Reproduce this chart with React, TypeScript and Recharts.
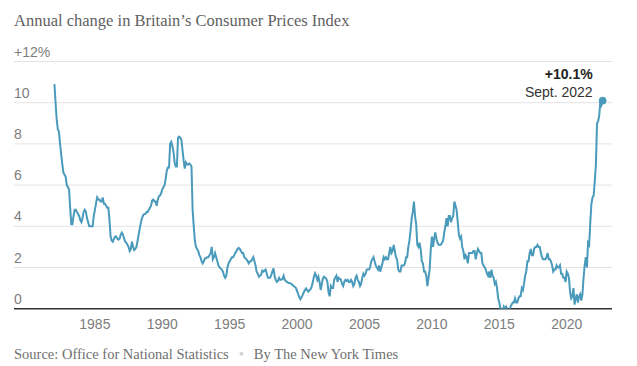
import React from "react";
import {
  LineChart,
  Line,
  XAxis,
  YAxis,
  CartesianGrid,
  ReferenceLine,
  ReferenceDot,
} from "recharts";

// Monthly annual CPI change (%), Jan of first year onward
const cpi1980s = [
  // 1982
  10.9, 10.0, 9.2, 8.7, 8.6, 8.0, 7.5, 7.0, 6.6, 6.5, 6.4, 6.0,
  // 1983
  5.9, 5.8, 4.9, 4.1, 4.1, 4.5, 4.8, 4.8, 4.7, 4.6, 4.5, 4.3,
  // 1984
  4.2, 4.4, 4.7, 4.8, 4.7, 4.4, 4.2, 4.0, 4.0, 4.0, 4.0, 4.5,
  // 1985
  4.8, 5.1, 5.4, 5.3, 5.3, 5.2, 5.2, 5.4, 5.1, 5.1, 5.0, 4.9,
  // 1986
  4.9, 4.3, 3.5, 3.3, 3.25, 3.4, 3.5, 3.5, 3.4, 3.35, 3.4, 3.6,
  // 1987
  3.7, 3.6, 3.4, 3.25, 3.2, 3.1, 3.0, 2.8, 2.9, 3.25, 3.0, 2.85,
  // 1988
  2.9, 3.0, 3.3, 3.6, 3.9, 4.2, 4.4, 4.55, 4.6, 4.6, 4.7, 4.7,
  // 1989
  4.8, 4.9, 5.0, 5.25, 5.3, 5.2, 5.2, 5.0, 5.3, 5.45, 5.5, 5.6,
];
const cpi1990s = [
  5.8, 5.9, 6.0, 6.3, 6.7, 6.85, 6.85, 8.0, 8.1, 7.9, 7.6, 7.1,
  6.9, 6.9, 8.3, 8.35, 8.3, 8.2, 7.7, 7.2, 6.8, 7.1, 7.0, 7.0,
  7.05, 7.0, 6.9, 4.8, 4.0, 3.3, 3.0, 2.9, 2.8, 2.6, 2.5, 2.3,
  2.2, 2.3, 2.45, 2.45, 2.5, 2.5, 2.6, 2.7, 3.0, 2.4, 2.5, 2.7,
  2.5, 2.3, 2.1, 2.0, 1.95, 1.9, 1.8, 1.6, 1.5, 1.6, 2.0, 2.2,
  2.3, 2.4, 2.5, 2.5, 2.6, 2.7, 2.8, 2.9, 2.95, 2.9, 2.8, 2.7,
  2.7, 2.5, 2.45, 2.4, 2.3, 2.2, 2.3, 2.3, 2.4, 2.5, 2.3, 2.1,
  1.8, 1.7, 1.55, 1.6, 1.65, 1.85, 1.8, 1.85, 1.9, 1.7, 1.5, 1.5,
  1.5, 1.64, 1.8, 1.96, 1.6, 1.4, 1.3, 1.35, 1.5, 1.4, 1.4, 1.45,
  1.6, 1.4, 1.35, 1.3, 1.26, 1.25, 1.23, 1.2, 1.15, 1.1, 1.05, 1.0,
];
const cpi2000s = [
  0.85, 0.7, 0.55, 0.46, 0.55, 0.67, 0.8, 0.91, 0.99, 0.9, 0.83, 0.9,
  0.95, 1.07, 1.3, 1.55, 1.72, 1.6, 1.4, 1.55, 1.3, 0.91, 1.2, 1.48,
  1.55, 1.5, 1.45, 1.3, 0.8, 0.6, 1.1, 1.0, 1.0, 1.4, 1.5, 1.6,
  1.3, 1.5, 1.45, 1.4, 1.2, 1.1, 1.3, 1.4, 1.35, 1.4, 1.3, 1.3,
  1.4, 1.3, 1.1, 1.2, 1.5, 1.6, 1.4, 1.3, 1.1, 1.2, 1.5, 1.7,
  1.6, 1.7, 1.9, 1.9, 1.9, 2.0, 2.3, 2.4, 2.5, 2.3, 2.1, 2.0,
  1.9, 2.1, 1.8, 2.0, 2.2, 2.5, 2.4, 2.5, 2.4, 2.4, 2.7, 3.0,
  2.7, 2.8, 3.1, 2.8, 2.5, 2.4, 1.9, 1.8, 1.8, 2.1, 2.1, 2.1,
  2.2, 2.5, 2.5, 3.0, 3.3, 3.8, 4.4, 4.7, 5.2, 4.5, 4.1, 3.1,
  3.0, 3.2, 2.9, 2.3, 2.2, 1.8, 1.8, 1.6, 1.1, 1.5, 1.9, 2.9,
];
const cpi2010s = [
  3.5, 3.0, 3.4, 3.7, 3.4, 3.2, 3.1, 3.1, 3.1, 3.2, 3.3, 3.7,
  4.0, 4.4, 4.0, 4.5, 4.5, 4.2, 4.4, 4.5, 5.2, 5.0, 4.8, 4.2,
  3.6, 3.4, 3.5, 3.0, 2.8, 2.4, 2.6, 2.5, 2.2, 2.7, 2.7, 2.7,
  2.7, 2.8, 2.8, 2.4, 2.7, 2.9, 2.8, 2.7, 2.7, 2.2, 2.1, 2.0,
  1.9, 1.7, 1.6, 1.8, 1.5, 1.9, 1.6, 1.5, 1.2, 1.3, 1.0, 0.5,
  0.3, 0.0, 0.0, -0.1, 0.1, 0.0, 0.1, 0.0, -0.1, -0.1, 0.1, 0.2,
  0.3, 0.3, 0.5, 0.3, 0.3, 0.5, 0.6, 0.6, 1.0, 0.9, 1.2, 1.6,
  1.8, 2.3, 2.3, 2.7, 2.9, 2.6, 2.6, 2.9, 3.0, 3.0, 3.1, 3.0,
  3.0, 2.7, 2.5, 2.4, 2.4, 2.4, 2.5, 2.7, 2.4, 2.4, 2.3, 2.1,
  1.8, 1.9, 1.9, 2.1, 2.0, 2.0, 2.1, 1.7, 1.7, 1.5, 1.5, 1.3,
];
const cpi2020s = [
  1.8, 1.7, 1.5, 0.8, 0.5, 0.6, 1.0, 0.2, 0.5, 0.7, 0.3, 0.6,
  0.7, 0.4, 0.7, 1.5, 2.1, 2.5, 2.0, 3.2, 3.1, 4.2, 5.1, 5.4,
  5.5, 6.2, 7.0, 9.0, 9.1, 9.4, 10.1, 9.9, 10.1,
];

const firstYear = 1982;
const xTicks = [1985, 1990, 1995, 2000, 2005, 2010, 2015, 2020];
const yTicks = [0, 2, 4, 6, 8, 10, 12];
const latestLabel = "Sept. 2022";

const values = [...cpi1980s, ...cpi1990s, ...cpi2000s, ...cpi2010s, ...cpi2020s];
const data = values.map((v, i) => ({ t: firstYear + i / 12, v }));
const last = data[data.length - 1];

const LINE = "#4a9abc";
const SANS = "'Liberation Sans', Arial, Helvetica, sans-serif";
const SERIF = "'Liberation Serif', Georgia, 'Times New Roman', serif";
const PLOT_LEFT = 14;

function YTick(props: any) {
  const { y, payload } = props;
  const label = payload.value === 12 ? "+12%" : String(payload.value);
  return (
    <text x={PLOT_LEFT} y={y - 5} textAnchor="start" fill="#7d7d7d" fontSize={14} fontFamily={SANS}>
      {label}
    </text>
  );
}

function XTick(props: any) {
  const { x, y, payload } = props;
  return (
    <text x={x} y={y + 12} textAnchor="middle" fill="#7d7d7d" fontSize={14} fontFamily={SANS}>
      {payload.value}
    </text>
  );
}

function LatestLabel(props: any) {
  const { viewBox } = props;
  const cx = viewBox.x + viewBox.width / 2;
  const cy = viewBox.y + viewBox.height / 2;
  return (
    <g fontFamily={SANS} fontSize={14} textAnchor="end">
      <text x={cx - 10} y={cy - 22} fill="#222" fontWeight="bold">
        +{last.v.toFixed(1)}%
      </text>
      <text x={cx - 10} y={cy - 4} fill="#333">
        {latestLabel}
      </text>
    </g>
  );
}

export default function App() {
  return (
    <div style={{ position: "absolute", left: 0, top: 0, width: 637, height: 366, background: "#fff" }}>
      <div
        style={{
          position: "absolute",
          left: 14,
          top: 12,
          fontFamily: SERIF,
          fontSize: 16.5,
          lineHeight: "17px",
          color: "#5f5f5f",
          whiteSpace: "nowrap",
        }}
      >
        Annual change in Britain’s Consumer Prices Index
      </div>

      <LineChart
        width={637}
        height={340}
        data={data}
        margin={{ top: 61.5, right: 25, bottom: 0, left: 13 }}
      >
        <CartesianGrid horizontal vertical={false} stroke="#e3e3e3" strokeWidth={1} />
        <XAxis
          dataKey="t"
          type="number"
          domain={[1979, 2023.36]}
          ticks={xTicks}
          tick={<XTick />}
          tickLine={false}
          axisLine={false}
          height={31.3}
          allowDataOverflow
        />
        <YAxis
          type="number"
          domain={[0, 12]}
          ticks={yTicks}
          tick={<YTick />}
          tickLine={false}
          axisLine={false}
          width={1}
          interval={0}
          allowDataOverflow
        />
        <ReferenceLine y={0} stroke="#333" strokeWidth={1.5} ifOverflow="visible" />
        <Line
          type="linear"
          dataKey="v"
          stroke={LINE}
          strokeWidth={2}
          dot={false}
          isAnimationActive={false}
        />
        <ReferenceDot
          x={last.t}
          y={last.v}
          r={3.5}
          fill={LINE}
          stroke={LINE}
          label={<LatestLabel />}
        />
      </LineChart>

      <div
        style={{
          position: "absolute",
          left: 14,
          top: 346,
          fontFamily: SERIF,
          fontSize: 14.5,
          lineHeight: "16px",
          color: "#6f6f6f",
          whiteSpace: "nowrap",
        }}
      >
        Source: Office for National Statistics
        <span style={{ color: "#d0d0d0", margin: "0 10px" }}>•</span>
        By The New York Times
      </div>
    </div>
  );
}
